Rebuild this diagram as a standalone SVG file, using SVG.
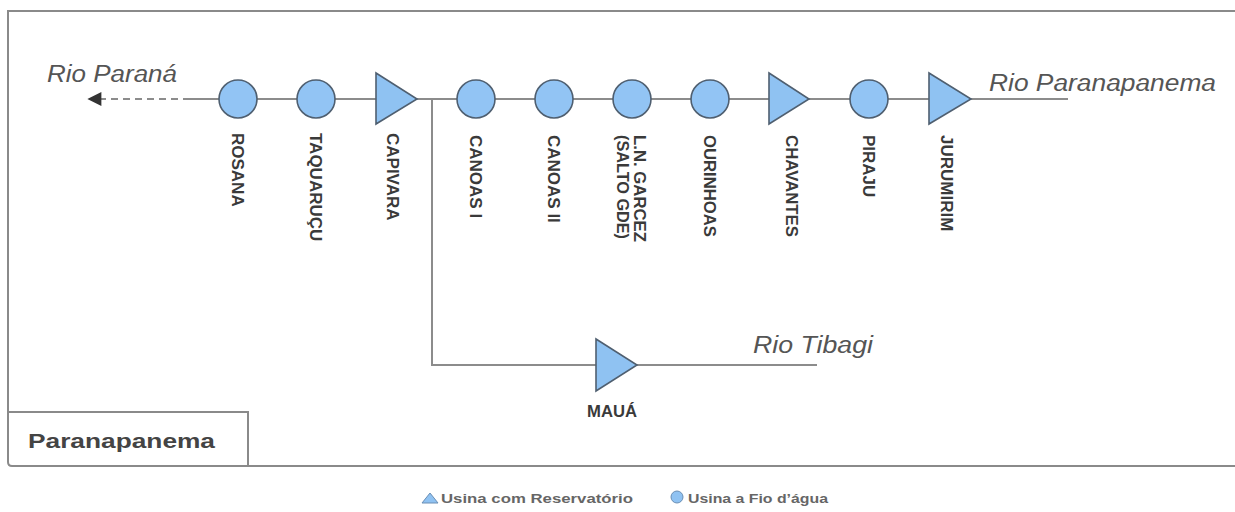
<svg xmlns="http://www.w3.org/2000/svg" width="1235" height="512" viewBox="0 0 1235 512">
<defs>
<style>
.frame{fill:none;stroke:#8a8a8a;stroke-width:2}
.river{fill:none;stroke:#8c8c8c;stroke-width:2}
.circ{fill:#92c4f4;stroke:#4f5f70;stroke-width:1.6}
.tri{fill:#8fc2f2;stroke:#4f5f70;stroke-width:1.6;stroke-linejoin:miter}
.lbl{font-family:"Liberation Sans",Arial,sans-serif;font-weight:bold;font-size:17px;fill:#3a3a3a}
.rio{font-family:"Liberation Sans",Arial,sans-serif;font-style:italic;font-size:23px;fill:#555}
.leg{font-family:"Liberation Sans",Arial,sans-serif;font-weight:bold;font-size:13px;fill:#666}
</style>
<marker id="arr" viewBox="0 0 10 10" refX="1" refY="5" markerWidth="16" markerHeight="14" markerUnits="userSpaceOnUse" orient="auto-start-reverse">
<path d="M0,0 L10,5 L0,10 Z" fill="#333"/>
</marker>
</defs>
<rect width="1235" height="512" fill="#fff"/>
<g id="frame">
<path class="frame" d="M1235,11 H8 V462 Q8,466 12,466 H1235" stroke="#999"/>
<path class="frame" d="M8,412 H248 V466"/>
<text x="28" y="448" font-family="'Liberation Sans',Arial,sans-serif" font-weight="bold" font-size="21" fill="#444" textLength="187" lengthAdjust="spacingAndGlyphs">Paranapanema</text>
</g>
<g id="connectors">
<line class="river" x1="190" y1="99" x2="100" y2="99" stroke-dasharray="7,5" marker-end="url(#arr)"/>
<line class="river" x1="190" y1="99" x2="1068" y2="99"/>
<polyline class="river" points="432,99 432,365 817,365"/>
</g>
<g id="rio-labels">
<text class="rio" x="47" y="82" textLength="130" lengthAdjust="spacingAndGlyphs">Rio Paraná</text>
<text class="rio" x="989" y="91" textLength="227" lengthAdjust="spacingAndGlyphs">Rio Paranapanema</text>
<text class="rio" x="753" y="353" textLength="120" lengthAdjust="spacingAndGlyphs">Rio Tibagi</text>
</g>
<g id="rosana"><circle class="circ" cx="238" cy="99" r="19"/><text class="lbl" transform="translate(232,133) rotate(90)">ROSANA</text></g>
<g id="taquarucu"><circle class="circ" cx="316" cy="99" r="19"/><text class="lbl" transform="translate(310,133) rotate(90)">TAQUARUÇU</text></g>
<g id="capivara"><polygon class="tri" points="376,73 417,99 376,124"/><text class="lbl" transform="translate(387,133) rotate(90)">CAPIVARA</text></g>
<g id="canoas1"><circle class="circ" cx="476" cy="99" r="19"/><text class="lbl" transform="translate(470,135) rotate(90)">CANOAS I</text></g>
<g id="canoas2"><circle class="circ" cx="554" cy="99" r="19"/><text class="lbl" transform="translate(548,135) rotate(90)">CANOAS II</text></g>
<g id="garcez"><circle class="circ" cx="632" cy="99" r="19"/><text class="lbl" transform="translate(634,135) rotate(90)" textLength="107" lengthAdjust="spacingAndGlyphs">L.N. GARCEZ</text><text class="lbl" transform="translate(617,135) rotate(90)" textLength="104" lengthAdjust="spacingAndGlyphs">(SALTO GDE)</text></g>
<g id="ourinhoas"><circle class="circ" cx="710" cy="99" r="19"/><text class="lbl" transform="translate(704,135) rotate(90)" textLength="102" lengthAdjust="spacingAndGlyphs">OURINHOAS</text></g>
<g id="chavantes"><polygon class="tri" points="769,73 809,99 769,124"/><text class="lbl" transform="translate(786,135) rotate(90)" textLength="102" lengthAdjust="spacingAndGlyphs">CHAVANTES</text></g>
<g id="piraju"><circle class="circ" cx="869" cy="99" r="19"/><text class="lbl" transform="translate(863,135) rotate(90)">PIRAJU</text></g>
<g id="jurumirim"><polygon class="tri" points="929,73 971,99 929,124"/><text class="lbl" transform="translate(941,135) rotate(90)">JURUMIRIM</text></g>
<g id="maua"><polygon class="tri" points="596,339 637,365 596,391"/><text class="lbl" x="612" y="417" text-anchor="middle" font-size="15" textLength="50" lengthAdjust="spacingAndGlyphs">MAUÁ</text></g>
<g id="legend">
<polygon points="430,493 438,503 422,503" fill="#8fc2f2" stroke="#6a8fb5" stroke-width="1"/>
<text class="leg" x="441" y="503" textLength="192" lengthAdjust="spacingAndGlyphs">Usina com Reservatório</text>
<circle cx="677" cy="497" r="6" fill="#8fc2f2" stroke="#6a8fb5" stroke-width="1"/>
<text class="leg" x="688" y="503" textLength="140" lengthAdjust="spacingAndGlyphs">Usina a Fio d’água</text>
</g>
</svg>
